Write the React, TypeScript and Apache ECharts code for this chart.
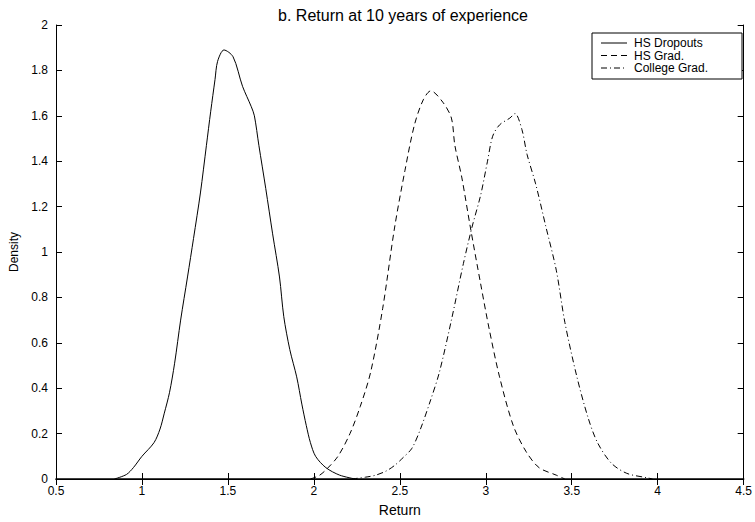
import React, { useEffect, useRef } from "react";
import * as echarts from "echarts";

const xTicks = [0.5, 1, 1.5, 2, 2.5, 3, 3.5, 4, 4.5];

const dropX = [0.84, 0.91, 0.95, 1.0, 1.07, 1.105, 1.13, 1.16, 1.19, 1.225, 1.265, 1.3, 1.34, 1.375, 1.4, 1.425, 1.44, 1.477, 1.53, 1.585, 1.636, 1.654, 1.68, 1.72, 1.76, 1.8, 1.825, 1.86, 1.9, 1.93, 1.956, 1.98, 2.01, 2.07, 2.15, 2.24];
const dropY = [0, 0.02, 0.05, 0.1, 0.16, 0.22, 0.29, 0.38, 0.51, 0.7, 0.89, 1.06, 1.26, 1.47, 1.62, 1.76, 1.84, 1.89, 1.86, 1.73, 1.64, 1.6, 1.47, 1.28, 1.08, 0.89, 0.715, 0.57, 0.45, 0.33, 0.235, 0.16, 0.1, 0.05, 0.017, 0];

const gradX = [1.98, 2.03, 2.07, 2.14, 2.21, 2.27, 2.33, 2.4, 2.47, 2.53, 2.585, 2.636, 2.68, 2.75, 2.8, 2.82, 2.86, 2.91, 2.97, 3.02, 3.08, 3.16, 3.235, 3.31, 3.41, 3.46];
const gradY = [0, 0.015, 0.04, 0.1, 0.2, 0.32, 0.47, 0.75, 1.11, 1.36, 1.56, 1.67, 1.71, 1.66, 1.59, 1.47, 1.33, 1.11, 0.86, 0.66, 0.45, 0.235, 0.12, 0.05, 0.017, 0];

const collX = [2.22, 2.3, 2.36, 2.42, 2.47, 2.52, 2.57, 2.62, 2.68, 2.73, 2.8, 2.87, 2.92, 2.97, 3.01, 3.04, 3.08, 3.14, 3.17, 3.21, 3.24, 3.29, 3.35, 3.41, 3.46, 3.53, 3.595, 3.65, 3.73, 3.82, 3.94, 3.97];
const collY = [0, 0.008, 0.017, 0.035, 0.06, 0.095, 0.135, 0.22, 0.35, 0.47, 0.7, 0.95, 1.11, 1.25, 1.4, 1.51, 1.56, 1.59, 1.61, 1.54, 1.43, 1.3, 1.11, 0.92, 0.69, 0.45, 0.27, 0.16, 0.07, 0.025, 0.005, 0];

const seriesNames = ["HS Dropouts", "HS Grad.", "College Grad."];
const dashes: (number[] | null)[] = [null, [6, 4], [6, 3, 1, 3]];

const zip = (xs: number[], ys: number[]) => xs.map((x, i) => [x, ys[i]]);

export default function App() {
  const ref = useRef<HTMLDivElement>(null);
  useEffect(() => {
    document.body.style.margin = "0";
    if (!ref.current) return;
    const chart = echarts.init(ref.current, null, { renderer: "svg" });
    const font = "Liberation Sans, Arial, sans-serif";
    const axisBase = {
      axisLine: { show: true, lineStyle: { color: "#000", width: 1 } },
      axisTick: { show: true, inside: true, length: 6, lineStyle: { color: "#000" } },
      splitLine: { show: false },
    };
    const datas = [zip(dropX, dropY), zip(gradX, gradY), zip(collX, collY)];
    const legendItems: any[] = [];
    const lx = 592, ly = 33;
    legendItems.push({
      type: "rect",
      shape: { x: lx, y: ly, width: 150, height: 46 },
      style: { fill: "#fff", stroke: "#000", lineWidth: 1 },
      z: 100,
    });
    seriesNames.forEach((n, i) => {
      const y = ly + 10 + i * 12.5;
      legendItems.push({
        type: "line",
        shape: { x1: lx + 9, y1: y, x2: lx + 35, y2: y },
        style: { stroke: "#000", lineWidth: 1, lineDash: dashes[i] || undefined },
        z: 101,
      });
      legendItems.push({
        type: "text",
        x: lx + 42,
        y,
        style: { text: n, fill: "#000", font: `12px ${font}`, verticalAlign: "middle" },
        z: 101,
      });
    });
    chart.setOption({
      animation: false,
      backgroundColor: "#fff",
      textStyle: { fontFamily: font },
      title: {
        text: "b. Return at 10 years of experience",
        left: 398,
        textAlign: "center",
        top: 2,
        textStyle: { fontSize: 16, fontWeight: "normal", color: "#000", fontFamily: font },
      },
      grid: { left: 48, right: 7, top: 25, bottom: 38 },
      xAxis: [
        {
          ...axisBase,
          axisLine: { show: true, lineStyle: { color: "#000", width: 1.5 } },
          type: "value",
          min: 0.5,
          max: 4.5,
          interval: 0.5,
          name: "Return",
          nameLocation: "middle",
          nameGap: 24,
          nameTextStyle: { color: "#000", fontSize: 14, fontFamily: font },
          axisLabel: { color: "#000", fontSize: 12, margin: 6, fontFamily: font },
        },
        {
          ...axisBase,
          type: "value",
          position: "top",
          min: 0.5,
          max: 4.5,
          interval: 0.5,
          axisLabel: { show: false },
        },
      ],
      yAxis: [
        {
          ...axisBase,
          type: "value",
          min: 0,
          max: 2,
          interval: 0.2,
          name: "Density",
          nameLocation: "middle",
          nameGap: 36,
          nameTextStyle: { color: "#000", fontSize: 12, fontFamily: font },
          axisLabel: { color: "#000", fontSize: 12, margin: 8, fontFamily: font, formatter: (v: number) => String(Math.round(v * 10) / 10) },
        },
        {
          ...axisBase,
          type: "value",
          position: "right",
          min: 0,
          max: 2,
          interval: 0.2,
          axisLabel: { show: false },
        },
      ],
      series: datas.map((d, i) => ({
        name: seriesNames[i],
        type: "line",
        data: d,
        smooth: 0.3,
        showSymbol: false,
        symbol: "none",
        lineStyle: { color: "#000", width: 1, type: dashes[i] || "solid" },
      })),
      graphic: legendItems,
    });
    return () => chart.dispose();
  }, []);
  return <div ref={ref} style={{ width: 755, height: 522 }} />;
}
